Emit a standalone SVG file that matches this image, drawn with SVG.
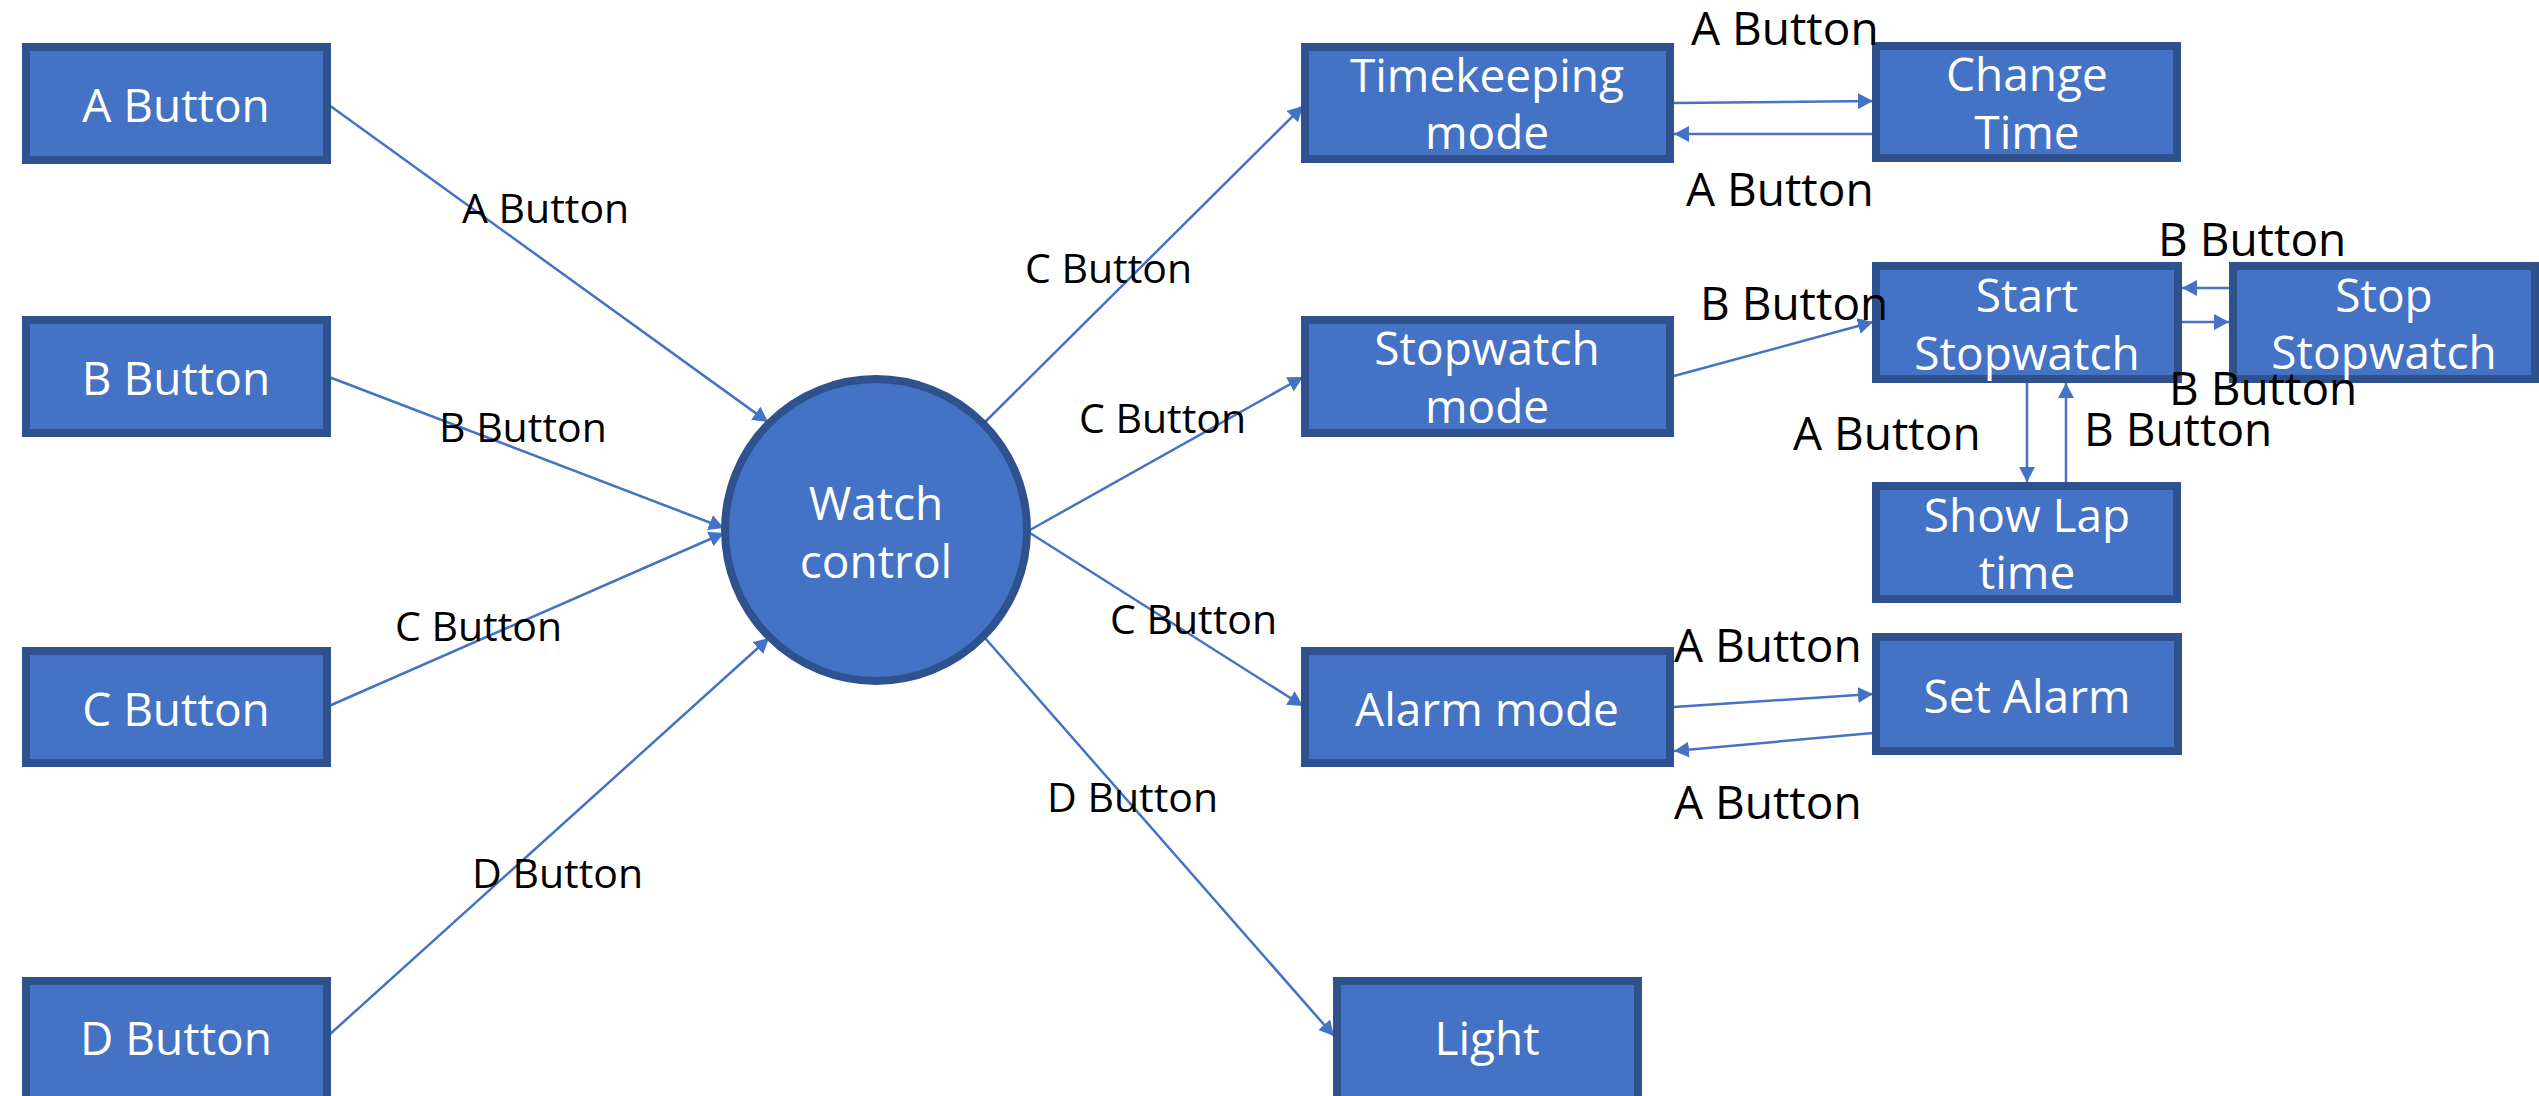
<svg xmlns="http://www.w3.org/2000/svg" width="2539" height="1096" viewBox="0 0 2539 1096">
<defs>
<marker id="arr" markerUnits="userSpaceOnUse" markerWidth="16" markerHeight="16" refX="15" refY="8" orient="auto">
<path d="M0,0 L15,8 L0,16 z" fill="#4472C4"/>
</marker>
<style>
.box{fill:#4472C4;stroke:#2F528F;stroke-width:8}
.nt{font-family:"Open Sans","Liberation Sans",sans-serif;font-size:46px;fill:#FFFFFF;text-anchor:middle}
.lbl{font-family:"Open Sans","Liberation Sans",sans-serif;font-size:41px;fill:#000000}
.lbl2{font-family:"Open Sans","Liberation Sans",sans-serif;font-size:46px;fill:#000000}
.con line{stroke:#4472C4;stroke-width:2.5;fill:none;marker-end:url(#arr)}
</style>
</defs>
<rect width="2539" height="1096" fill="#FFFFFF"/>

<g id="connectors" class="con">
<line x1="329" y1="105" x2="768" y2="422"/>
<line x1="329" y1="377" x2="724" y2="528"/>
<line x1="329" y1="706" x2="724" y2="533"/>
<line x1="329" y1="1035" x2="769" y2="638"/>
<line x1="985" y1="422" x2="1303" y2="106"/>
<line x1="1030" y1="530" x2="1303" y2="377"/>
<line x1="1030" y1="533" x2="1303" y2="706"/>
<line x1="985" y1="638" x2="1334" y2="1036"/>
<line x1="1674" y1="103" x2="1873" y2="101"/>
<line x1="1873" y1="134" x2="1674" y2="134"/>
<line x1="1674" y1="376" x2="1873" y2="322"/>
<line x1="2229" y1="288" x2="2182" y2="288"/>
<line x1="2182" y1="322" x2="2229" y2="322"/>
<line x1="2027" y1="383" x2="2027" y2="482"/>
<line x1="2066" y1="482" x2="2066" y2="383"/>
<line x1="1674" y1="707" x2="1873" y2="694"/>
<line x1="1873" y1="733" x2="1674" y2="751"/>
</g>

<g id="a-button"><rect class="box" x="26" y="47" width="301" height="113"/><text class="nt" x="176" y="122">A Button</text></g>
<g id="b-button"><rect class="box" x="26" y="320" width="301" height="113"/><text class="nt" x="176" y="395">B Button</text></g>
<g id="c-button"><rect class="box" x="26" y="651" width="301" height="112"/><text class="nt" x="176" y="726">C Button</text></g>
<g id="d-button"><rect class="box" x="26" y="981" width="301" height="140"/><text class="nt" x="176" y="1055">D Button</text></g>

<g id="watch-control"><circle cx="876" cy="530" r="151" fill="#4472C4" stroke="#2F528F" stroke-width="8"/><text class="nt" x="876" y="520">Watch</text><text class="nt" x="876" y="578">control</text></g>

<g id="timekeeping-mode"><rect class="box" x="1305" y="47" width="365" height="112"/><text class="nt" x="1487" y="92">Timekeeping</text><text class="nt" x="1487" y="149">mode</text></g>
<g id="stopwatch-mode"><rect class="box" x="1305" y="320" width="365" height="113"/><text class="nt" x="1487" y="365">Stopwatch</text><text class="nt" x="1487" y="423">mode</text></g>
<g id="alarm-mode"><rect class="box" x="1305" y="651" width="365" height="112"/><text class="nt" x="1487" y="726">Alarm mode</text></g>
<g id="light"><rect class="box" x="1337" y="981" width="301" height="140"/><text class="nt" x="1487" y="1055">Light</text></g>

<g id="change-time"><rect class="box" x="1876" y="46" width="301" height="112"/><text class="nt" x="2027" y="91">Change</text><text class="nt" x="2027" y="149">Time</text></g>
<g id="start-stopwatch"><rect class="box" x="1876" y="266" width="302" height="113"/><text class="nt" x="2027" y="312">Start</text><text class="nt" x="2027" y="370">Stopwatch</text></g>
<g id="stop-stopwatch"><rect class="box" x="2233" y="266" width="302" height="113"/><text class="nt" x="2384" y="312">Stop</text><text class="nt" x="2384" y="369">Stopwatch</text></g>
<g id="show-lap-time"><rect class="box" x="1876" y="486" width="301" height="113"/><text class="nt" x="2027" y="532">Show Lap</text><text class="nt" x="2027" y="589">time</text></g>
<g id="set-alarm"><rect class="box" x="1876" y="637" width="302" height="114"/><text class="nt" x="2027" y="713">Set Alarm</text></g>

<g id="labels">
<text class="lbl" x="462" y="223">A Button</text>
<text class="lbl" x="439" y="442">B Button</text>
<text class="lbl" x="395" y="641">C Button</text>
<text class="lbl" x="472" y="888">D Button</text>
<text class="lbl" x="1025" y="283">C Button</text>
<text class="lbl" x="1079" y="433">C Button</text>
<text class="lbl" x="1110" y="634">C Button</text>
<text class="lbl" x="1047" y="812">D Button</text>
<text class="lbl2" x="1691" y="45">A Button</text>
<text class="lbl2" x="1686" y="206">A Button</text>
<text class="lbl2" x="2158" y="256">B Button</text>
<text class="lbl2" x="1700" y="320">B Button</text>
<text class="lbl2" x="2169" y="405">B Button</text>
<text class="lbl2" x="1793" y="450">A Button</text>
<text class="lbl2" x="2084" y="446">B Button</text>
<text class="lbl2" x="1674" y="662">A Button</text>
<text class="lbl2" x="1674" y="819">A Button</text>
</g>
</svg>
